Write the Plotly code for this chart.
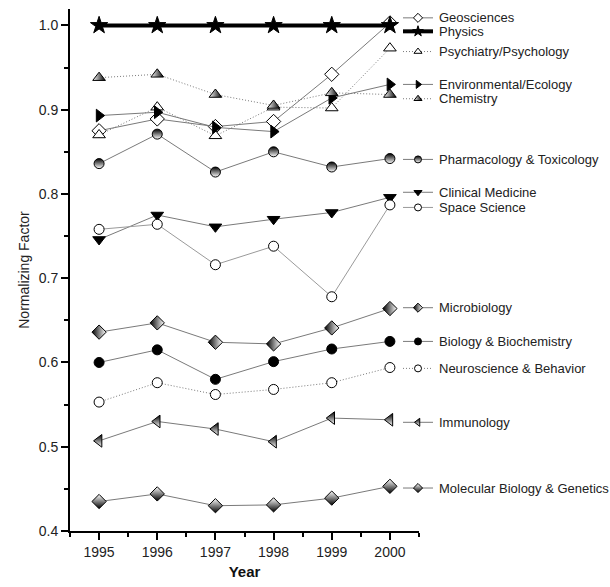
import plotly.graph_objects as go

years = [1995, 1996, 1997, 1998, 1999, 2000]

geosciences   = [0.875, 0.889, 0.880, 0.886, 0.942, 1.003]
physics       = [1.000, 1.000, 1.000, 1.000, 1.000, 1.000]
psychiatry    = [0.870, 0.903, 0.869, 0.903, 0.902, 0.973]
environmental = [0.893, 0.897, 0.879, 0.874, 0.914, 0.930]
chemistry     = [0.938, 0.942, 0.918, 0.905, 0.920, 0.918]
pharmacology  = [0.836, 0.871, 0.826, 0.850, 0.832, 0.842]
clinical      = [0.746, 0.775, 0.761, 0.770, 0.778, 0.796]
space         = [0.758, 0.764, 0.716, 0.738, 0.678, 0.787]
microbiology  = [0.636, 0.647, 0.624, 0.622, 0.641, 0.664]
biobio        = [0.600, 0.615, 0.580, 0.601, 0.616, 0.625]
neuro         = [0.553, 0.576, 0.562, 0.568, 0.576, 0.594]
immunology    = [0.507, 0.530, 0.521, 0.506, 0.534, 0.532]
molbio        = [0.435, 0.444, 0.430, 0.431, 0.439, 0.453]

names = ["Geosciences", "Physics", "Psychiatry/Psychology", "Environmental/Ecology",
         "Chemistry", "Pharmacology & Toxicology", "Clinical Medicine", "Space Science",
         "Microbiology", "Biology & Biochemistry", "Neuroscience & Behavior",
         "Immunology", "Molecular Biology & Genetics"]
series = [geosciences, physics, psychiatry, environmental, chemistry, pharmacology,
          clinical, space, microbiology, biobio, neuro, immunology, molbio]
# y-position (data units) of each label in the side key
label_y = [1.009, 0.993, 0.969, 0.930, 0.913, 0.841, 0.802, 0.784,
           0.665, 0.625, 0.593, 0.529, 0.451]

GRAY = "#7a7a7a"
DOT = "1px,2px"
styles = [
    dict(symbol="diamond", fill="white", grad=None, dash="solid", lw=1, lc=GRAY, size=11),
    dict(symbol="star", fill="black", grad=None, dash="solid", lw=4, lc="black", size=13),
    dict(symbol="triangle-up", fill="white", grad=None, dash=DOT, lw=1, lc=GRAY, size=11),
    dict(symbol="triangle-right", fill="black", grad=None, dash="solid", lw=1, lc=GRAY, size=11),
    dict(symbol="triangle-up", fill="white", grad=("horizontal", "black"), dash=DOT, lw=1, lc=GRAY, size=11),
    dict(symbol="circle", fill="black", grad=("vertical", "white"), dash="solid", lw=1, lc=GRAY, size=10),
    dict(symbol="triangle-down", fill="black", grad=None, dash="solid", lw=1, lc=GRAY, size=11),
    dict(symbol="circle", fill="white", grad=None, dash="solid", lw=1, lc="#9a9a9a", size=10),
    dict(symbol="diamond", fill="black", grad=("horizontal", "white"), dash="solid", lw=1, lc=GRAY, size=11),
    dict(symbol="circle", fill="black", grad=None, dash="solid", lw=1, lc=GRAY, size=10),
    dict(symbol="circle", fill="white", grad=None, dash=DOT, lw=1, lc=GRAY, size=10),
    dict(symbol="triangle-left", fill="black", grad=("vertical", "white"), dash="solid", lw=1, lc=GRAY, size=11),
    dict(symbol="diamond", fill="white", grad=("vertical", "black"), dash="solid", lw=1, lc=GRAY, size=11),
]

fig = go.Figure()

def marker_dict(st, size):
    m = dict(symbol=st["symbol"], size=size, color=st["fill"],
             line=dict(color="black", width=1))
    if st["grad"]:
        m["gradient"] = dict(type=st["grad"][0], color=st["grad"][1])
    return m

for name, ys, st in zip(names, series, styles):
    fig.add_trace(go.Scatter(
        x=years, y=ys, mode="lines+markers", name=name, showlegend=False,
        line=dict(color=st["lc"], width=st["lw"], dash=st["dash"]),
        marker=marker_dict(st, st["size"]), cliponaxis=False))

# side key samples (line + small marker) on a hidden axis
for name, ly, st in zip(names, label_y, styles):
    fig.add_trace(go.Scatter(
        x=[0, 1], y=[ly, ly], mode="lines", xaxis="x2", yaxis="y",
        line=dict(color=st["lc"], width=st["lw"], dash=st["dash"]),
        showlegend=False, hoverinfo="skip", cliponaxis=False))
    fig.add_trace(go.Scatter(
        x=[0.5], y=[ly], mode="markers", xaxis="x2", yaxis="y",
        marker=marker_dict(st, 7 if st["symbol"] != "star" else 8),
        showlegend=False, hoverinfo="skip", cliponaxis=False))

L, R = 70, 30
W = 610 - L - R
def px(x):
    return (x - L) / W

annotations = []
for name, ly in zip(names, label_y):
    annotations.append(dict(x=px(437), y=ly, xref="paper", yref="y", text=name,
                            showarrow=False, xanchor="left", yanchor="middle",
                            font=dict(family="Liberation Sans, Arial", size=13, color="#222")))

fig.update_layout(
    width=610, height=587,
    margin=dict(l=L, r=R, t=9, b=54),
    paper_bgcolor="white", plot_bgcolor="white",
    font=dict(family="Liberation Sans, Arial", size=13, color="#222"),
    annotations=annotations,
    xaxis=dict(domain=[0, px(419)], range=[1994.5, 2000.5],
               tickvals=years, ticktext=[str(y) for y in years],
               showline=True, linecolor="black", linewidth=2,
               ticks="outside", ticklen=7, tickwidth=2, tickcolor="black",
               minor=dict(dtick=0.5, tick0=1994.5, ticks="outside", ticklen=4, tickwidth=2, tickcolor="black"),
               showgrid=False, zeroline=False,
               title=dict(text="<b>Year</b>", font=dict(size=15, color="#111"), standoff=8),
               tickfont=dict(size=14)),
    xaxis2=dict(domain=[px(403), px(433)], range=[0, 1], anchor="y",
                visible=False, showgrid=False, zeroline=False),
    yaxis=dict(range=[0.4, 1.0195], tickvals=[0.4, 0.5, 0.6, 0.7, 0.8, 0.9, 1.0],
               ticktext=["0.4", "0.5", "0.6", "0.7", "0.8", "0.9", "1.0"],
               showline=True, linecolor="black", linewidth=2,
               ticks="outside", ticklen=7, tickwidth=2, tickcolor="black",
               minor=dict(dtick=0.05, tick0=0.4, ticks="outside", ticklen=4, tickwidth=2, tickcolor="black"),
               showgrid=False, zeroline=False,
               title=dict(text="Normalizing Factor", font=dict(size=14, color="#222"), standoff=6),
               tickfont=dict(size=14)),
)

fig.write_html("out.html")
